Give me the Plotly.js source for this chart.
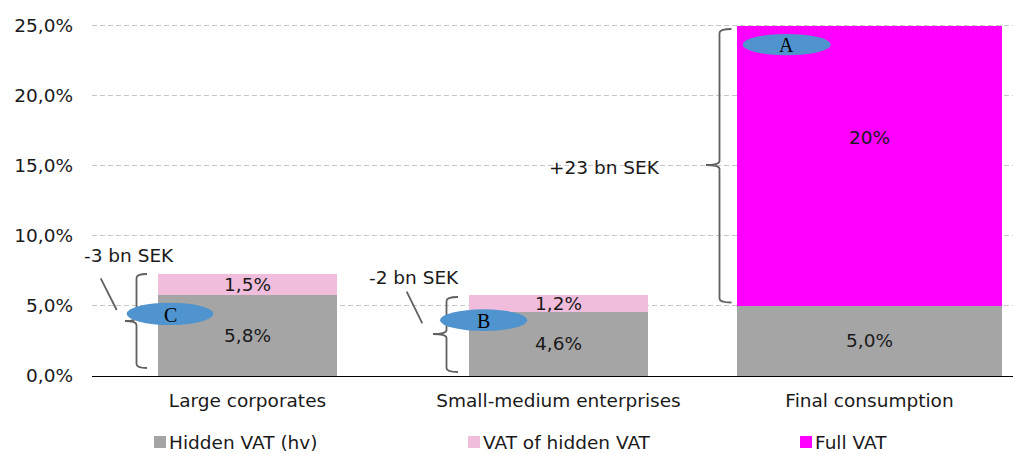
<!DOCTYPE html>
<html>
<head>
<meta charset="utf-8">
<script src="https://cdn.plot.ly/plotly-3.0.1.min.js"></script>
<style>html,body{margin:0;padding:0;background:#fff;}#chart{width:1013px;height:454px;}</style>
</head>
<body>
<div id="chart"></div>
<script>
// ---- data ----
const categories = ["Large corporates", "Small-medium enterprises", "Final consumption"];
const hiddenVat = [5.8, 4.6, 5.0];
const vatOfHiddenVat = [1.5, 1.2, null];
const fullVat = [null, null, 20];
const seriesNames = ["Hidden VAT (hv)", "VAT of hidden VAT", "Full VAT"];
const yTicks = [0, 5, 10, 15, 20, 25];
const yTickLabels = ["0,0%", "5,0%", "10,0%", "15,0%", "20,0%", "25,0%"];
const braceTexts = ["-3 bn SEK", "-2 bn SEK", "+23 bn SEK"];
const markerLetters = ["C", "B", "A"];

// ---- style ----
const colors = ["#A5A5A5", "#F0BEDC", "#FF00FF"];
const FONT = "DejaVu Sans, Verdana, sans-serif";
const FS = 18.5;
const TXT = "#1a1a1a";
const barWidths = [0.576, 0.576, 0.855];

// pixel -> paper helpers (plot area: left 92, width 921, bottom 376, height 353)
const L = 92, W = 921, B = 376, H = 353;
const px = x => (x - L) / W;
const py = y => (B - y) / H;
const pt = (x, y) => px(x).toFixed(5) + "," + py(y).toFixed(5);

function brace(xv, xTip, xEnd, yTop, yMid, yBot) {
  const r = 4;
  return "M" + pt(xEnd, yTop) + " Q" + pt(xv, yTop) + " " + pt(xv, yTop + r) +
    " L" + pt(xv, yMid - r) + " Q" + pt(xv, yMid) + " " + pt(xTip, yMid) +
    " Q" + pt(xv, yMid) + " " + pt(xv, yMid + r) +
    " L" + pt(xv, yBot - r) + " Q" + pt(xv, yBot) + " " + pt(xEnd, yBot);
}

const lineStyle = {color: "#606060", width: 1.8};

const traces = [
  {type: "bar", name: seriesNames[0], x: categories, y: hiddenVat, width: barWidths,
   marker: {color: colors[0]}, texttemplate: "%{y:.1f}%", textposition: "inside",
   insidetextanchor: "middle", textangle: 0,
   textfont: {family: FONT, size: FS, color: TXT}, showlegend: false},
  {type: "bar", name: seriesNames[1], x: categories, y: vatOfHiddenVat, width: barWidths,
   marker: {color: colors[1]}, texttemplate: "%{y:.1f}%", textposition: "inside",
   insidetextanchor: "middle", textangle: 0,
   textfont: {family: FONT, size: FS, color: TXT}, showlegend: false},
  {type: "bar", name: seriesNames[2], x: categories, y: fullVat, width: barWidths,
   marker: {color: colors[2]}, textposition: "none", showlegend: false}
];

const shapes = [
  {type: "path", xref: "paper", yref: "paper", path: brace(136.5, 125, 147, 274, 321, 368), line: lineStyle},
  {type: "path", xref: "paper", yref: "paper", path: brace(446.5, 433, 458, 297, 334, 372), line: lineStyle},
  {type: "path", xref: "paper", yref: "paper", path: brace(719.5, 706, 731.5, 29, 165, 302.5), line: lineStyle},
  {type: "line", xref: "paper", yref: "paper", x0: px(100.7), y0: py(278.3), x1: px(116.7), y1: py(310), line: lineStyle},
  {type: "line", xref: "paper", yref: "paper", x0: px(406.7), y0: py(291.7), x1: px(422.3), y1: py(323.3), line: lineStyle},
  {type: "circle", xref: "paper", yref: "paper", x0: px(126.7), x1: px(213.3), y0: py(325), y1: py(302.7), fillcolor: "#4F94CF", line: {width: 0}},
  {type: "circle", xref: "paper", yref: "paper", x0: px(440), x1: px(527.3), y0: py(331), y1: py(309.3), fillcolor: "#4F94CF", line: {width: 0}},
  {type: "circle", xref: "paper", yref: "paper", x0: px(742.7), x1: px(830.7), y0: py(55.3), y1: py(34), fillcolor: "#4F94CF", line: {width: 0}}
];

const legendX = [154, 468, 800];
legendX.forEach((x, i) => {
  shapes.push({type: "rect", xref: "paper", yref: "paper", x0: px(x), x1: px(x + 12),
    y0: py(448), y1: py(436), fillcolor: colors[i], line: {width: 0}});
});

const annFont = {family: FONT, size: FS, color: TXT};
const serif = {family: "Liberation Serif, Times New Roman, serif", size: 20, color: "#000"};
function ann(x, y, text, font, xanchor, yanchor) {
  return {xref: "paper", yref: "paper", x: px(x), y: py(y), text: text, showarrow: false,
    font: font, xanchor: xanchor || "center", yanchor: yanchor || "middle"};
}
const annotations = [
  ann(129, 255, braceTexts[0], annFont),
  ann(414, 277, braceTexts[1], annFont),
  ann(604, 167, braceTexts[2], annFont),
  ann(170, 315, markerLetters[0], serif),
  ann(483.7, 321, markerLetters[1], serif),
  ann(786.7, 45.5, markerLetters[2], serif),
  // Full VAT data label
  {xref: "x", yref: "y", x: categories[2], y: 17, text: fullVat[2].toFixed(0) + "%", showarrow: false,
   font: annFont, xanchor: "center", yanchor: "middle"}
];
seriesNames.forEach((n, i) => {
  const a = ann(legendX[i] + 14, 454, n, annFont, "left", "bottom");
  a.borderpad = 0;
  annotations.push(a);
});

const layout = {
  width: 1013, height: 454,
  margin: {l: 92, r: 0, t: 23, b: 78, pad: 0},
  paper_bgcolor: "#fff", plot_bgcolor: "#fff",
  separators: ",.",
  barmode: "stack",
  font: {family: FONT, size: FS, color: TXT},
  uniformtext: {mode: "show", minsize: FS},
  xaxis: {type: "category", categoryorder: "array", categoryarray: categories,
    range: [-0.5, 2.4614], showgrid: false, zeroline: false,
    showline: true, linecolor: "#000", linewidth: 1.2, ticks: "", ticklabelstandoff: 8,
    tickfont: {family: FONT, size: FS, color: TXT}, fixedrange: true},
  yaxis: {range: [0, 25.2], tickmode: "array", tickvals: yTicks, ticktext: yTickLabels,
    showgrid: true, gridcolor: "#c6c6c6", griddash: "5px,3px", gridwidth: 1,
    zeroline: false, showline: false, ticks: "", ticklabelstandoff: 18,
    tickfont: {family: FONT, size: FS, color: TXT}, fixedrange: true},
  shapes: shapes,
  annotations: annotations,
  showlegend: false,
  hovermode: false
};

Plotly.newPlot("chart", traces, layout, {staticPlot: true, displayModeBar: false});
</script>
</body>
</html>
